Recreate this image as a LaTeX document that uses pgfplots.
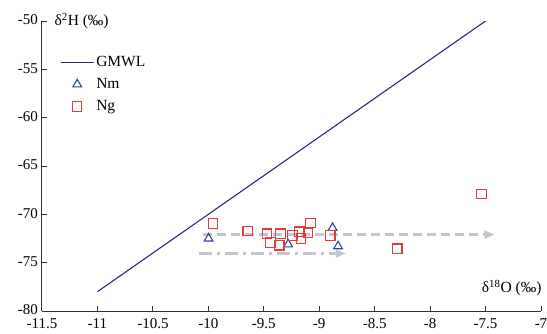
\documentclass[border=0pt]{standalone}
\usepackage{fontspec}
\setmainfont{Liberation Serif}
\usepackage{pgfplots}
\pgfplotsset{compat=1.18}
\usetikzlibrary{arrows.meta}
\definecolor{gmwl}{RGB}{45,40,120}
\definecolor{nm}{RGB}{45,70,155}
\definecolor{ng}{RGB}{225,60,55}
\definecolor{arr}{RGB}{196,198,204}
\pgfplotsset{
  mylinelegend/.style={legend image code/.code={\draw[##1] (0pt,0pt) -- (33pt,0pt);}},
  mymarklegend/.style={legend image code/.code={\draw[mark repeat=2,mark phase=2,##1] plot coordinates {(0pt,0pt)(16.5pt,0pt)(33pt,0pt)};}},
}
\begin{document}
\begin{tikzpicture}
\begin{axis}[
  scale only axis,
  width=499pt, height=290pt,
  at={(0,0)}, anchor=south west,
  xmin=-11.5, xmax=-7, ymin=-80, ymax=-50,
  xtick={-11.5,-11,...,-7},
  ytick={-80,-75,...,-50},
  axis lines=left,
  axis line style={-, line width=1pt, black!80},
  tick align=inside,
  major tick length=5pt,
  tick style={line width=1pt, black!80},
  /pgf/number format/assume math mode=true,
  ticklabel style={font=\fontsize{15}{17}\selectfont},
  xticklabel style={yshift=-6pt, inner sep=1pt},
  yticklabel style={xshift=-3pt, yshift=1pt, inner sep=1pt},
  clip=true,
  legend style={draw=none, fill=none, font=\fontsize{15.5}{17}\selectfont,
    at={(0.03,0.893)}, anchor=north west, row sep=6.5pt,
    legend cell align=left},
]
\addplot[gmwl, line width=1.1pt, mylinelegend]
  coordinates {(-11,-78) (-7.42,-49.36)};
\addlegendentry{GMWL}
\addplot[only marks, mark=triangle, mark size=5pt, nm, mark options={line width=1.1pt}, mymarklegend]
  coordinates {(-9.998,-72.5) (-9.28,-73.1) (-8.88,-71.4) (-8.83,-73.3)};
\addlegendentry{Nm}
\addplot[only marks, mark=square, mark size=4.7pt, ng, mark options={line width=1.1pt}, mymarklegend]
  coordinates {(-9.96,-70.95) (-9.645,-71.7) (-9.47,-72.0) (-9.35,-72.0)
  (-9.44,-72.9) (-9.36,-73.2) (-9.24,-72.2) (-9.18,-71.8) (-9.165,-72.5)
  (-9.10,-71.9) (-9.08,-70.9) (-8.90,-72.2) (-8.296,-73.55) (-7.537,-67.9)};
\addlegendentry{Ng}
\addplot[arr, line width=2.3pt, dash pattern=on 9pt off 5pt,
  -{Triangle[length=10pt,width=8pt]}, forget plot]
  coordinates {(-10.05,-72.1) (-7.42,-72.1)};
\addplot[arr, line width=2.3pt, dash pattern=on 13pt off 5pt on 3pt off 5pt,
  -{Triangle[length=10pt,width=8pt]}, forget plot]
  coordinates {(-10.08,-74.05) (-8.76,-74.05)};
\end{axis}
\node[anchor=west, font=\fontsize{15.5}{17}\selectfont] at (9pt,290pt) {δ\textsuperscript{2}H (‰)};
\node[anchor=east, font=\fontsize{15.5}{17}\selectfont] at (503pt,23pt) {δ\textsuperscript{18}O (‰)};
\pgfresetboundingbox
\useasboundingbox (-42pt,-22pt) rectangle (505pt,311pt);
\end{tikzpicture}
\end{document}
